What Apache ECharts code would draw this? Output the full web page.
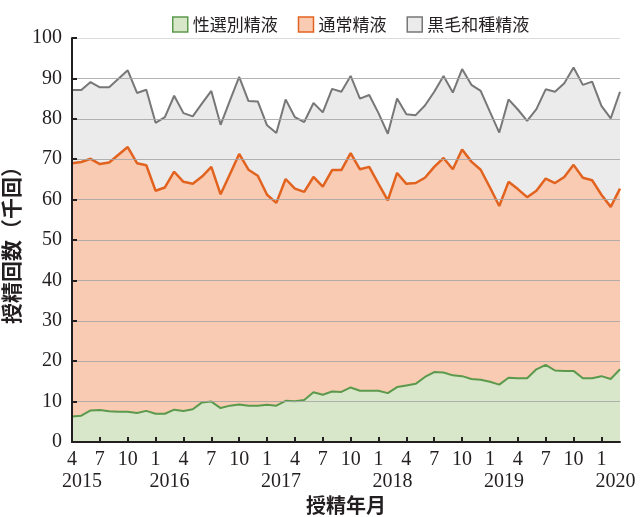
<!DOCTYPE html>
<html>
<head>
<meta charset="utf-8">
<script src="https://cdn.jsdelivr.net/npm/echarts@6/dist/echarts.min.js"></script>
<style>
html,body{margin:0;padding:0;background:#fff;}
#chart{width:641px;height:517px;}
</style>
</head>
<body>
<div id="chart"></div>
<script>
// Months: April 2015 – March 2020
const categories = [
  '2015-04','2015-05','2015-06','2015-07','2015-08','2015-09','2015-10','2015-11','2015-12',
  '2016-01','2016-02','2016-03','2016-04','2016-05','2016-06','2016-07','2016-08','2016-09','2016-10','2016-11','2016-12',
  '2017-01','2017-02','2017-03','2017-04','2017-05','2017-06','2017-07','2017-08','2017-09','2017-10','2017-11','2017-12',
  '2018-01','2018-02','2018-03','2018-04','2018-05','2018-06','2018-07','2018-08','2018-09','2018-10','2018-11','2018-12',
  '2019-01','2019-02','2019-03','2019-04','2019-05','2019-06','2019-07','2019-08','2019-09','2019-10','2019-11','2019-12',
  '2020-01','2020-02','2020-03'
];
// 性選別精液 (thousand)
const sexedSemen = [
  6.3,6.5,7.8,7.9,7.6,7.5,7.5,7.2,7.7,
  7.0,7.0,8.0,7.7,8.1,9.8,10.0,8.4,9.0,9.3,9.0,9.0,
  9.2,9.0,10.2,10.1,10.4,12.3,11.7,12.5,12.4,13.5,12.7,12.7,
  12.7,12.1,13.6,14.0,14.4,16.1,17.3,17.2,16.5,16.3,15.6,15.4,
  14.9,14.2,15.9,15.8,15.8,18.0,19.1,17.7,17.6,17.6,15.8,15.8,
  16.3,15.6,18.0
];
// 通常精液 (thousand)
const conventionalSemen = [
  62.7,62.8,62.3,60.9,61.6,63.6,65.5,61.8,60.8,
  55.2,56.0,58.9,56.7,55.8,55.9,58.1,52.9,57.3,62.0,58.4,56.9,
  52.0,50.2,54.9,52.6,51.5,53.3,51.5,54.8,54.9,58.0,54.8,55.4,
  51.2,47.7,53.0,49.9,49.7,49.3,50.8,53.1,51.0,56.1,53.8,52.0,
  48.1,44.2,48.5,46.8,44.8,44.2,46.1,46.4,48.0,51.0,49.6,49.0,
  44.9,42.6,44.7
];
// 黒毛和種精液 (thousand)
const wagyuSemen = [
  18.1,17.8,19.0,19.0,18.6,18.8,19.0,17.4,18.7,
  16.8,17.4,18.8,17.0,16.7,18.1,18.8,17.2,18.2,19.1,17.0,18.4,
  17.2,17.3,19.7,17.7,17.3,18.3,18.4,20.1,19.4,19.1,17.5,17.8,
  17.5,16.5,18.4,17.2,16.8,17.9,18.6,20.3,19.0,19.9,19.0,19.5,
  18.7,18.2,20.4,19.7,18.9,20.2,22.1,22.6,23.2,24.1,23.0,24.4,
  22.0,21.9,24.0
];
const seriesNames = ['性選別精液','通常精液','黒毛和種精液'];
const yTicks = [0,10,20,30,40,50,60,70,80,90,100];

const lineColors = ['#5b9a4c','#e2631f','#777777'];
const fillColors = ['#d8e6c9','#f9cbb3','#ebebeb'];
const numFont = 'Liberation Serif';
const cjkFont = 'Noto Sans CJK JP';
const ink = '#231f20';

const chart = echarts.init(document.getElementById('chart'), null, {renderer:'canvas'});
const seriesData = [sexedSemen, conventionalSemen, wagyuSemen];

const monthOf = v => parseInt(v.split('-')[1], 10);

const option = {
  animation: false,
  grid: {left: 72, right: 21, top: 38, bottom: 75, containLabel: false, outerBoundsMode: 'none'},
  legend: {
    left: 167, top: 11,
    itemWidth: 15, itemHeight: 15, itemGap: 20,
    icon: 'rect',
    textStyle: {fontFamily: cjkFont, fontSize: 17, color: ink},
    data: seriesNames.map((n,i)=>({name:n, itemStyle:{color:fillColors[i], borderColor:lineColors[i], borderWidth:1.5}}))
  },
  xAxis: [{
    type: 'category',
    boundaryGap: false,
    data: categories,
    name: '授精年月',
    nameLocation: 'middle',
    nameGap: 53,
    nameTextStyle: {fontFamily: cjkFont, fontSize: 20, fontWeight: 'bold', color: ink},
    z: 5,
    axisLine: {lineStyle: {color: ink, width: 2}},
    axisTick: {inside: true, length: 5, interval: 2, lineStyle:{color: ink, width: 2}},
    axisLabel: {
      interval: (idx) => idx % 3 === 0,
      margin: 7,
      showMinLabel: true,
      fontFamily: numFont, fontSize: 20, color: ink, lineHeight: 22,
      formatter: (val) => String(monthOf(val))
    },
    splitLine: {show: false}
  }, {
    type: 'category',
    boundaryGap: false,
    data: categories,
    position: 'bottom',
    offset: 22,
    axisLine: {show: false},
    axisTick: {show: false},
    axisLabel: {
      interval: (idx, val) => idx === 0 || monthOf(val) === 1,
      margin: 7,
      showMinLabel: true,
      fontFamily: numFont, fontSize: 20, color: ink,
      formatter: (val, idx) => (idx === 0 ? '{y0|' : '{y|') + val.split('-')[0] + '}',
      rich: {
        y: {fontFamily: numFont, fontSize: 20, color: ink, lineHeight: 22, padding: [0,0,0,28]},
        y0: {fontFamily: numFont, fontSize: 20, color: ink, lineHeight: 22, padding: [0,0,0,20]}
      }
    },
    splitLine: {show: false}
  }],
  yAxis: {
    type: 'value',
    min: yTicks[0], max: yTicks[yTicks.length-1], interval: 10,
    name: '授精回数（千回）',
    nameLocation: 'middle',
    nameGap: 46,
    nameTextStyle: {fontFamily: cjkFont, fontSize: 21, fontWeight: 'bold', color: ink},
    z: 4,
    axisLine: {show: true, lineStyle: {color: ink, width: 2}},
    axisTick: {show: true, inside: true, length: 5, lineStyle:{color: ink, width: 2}},
    axisLabel: {margin: 10, fontFamily: numFont, fontSize: 20, color: ink},
    splitLine: {lineStyle: {color: ['#a6a6a6','#a6a6a6','#a6a6a6','#a6a6a6','#a6a6a6','#a6a6a6','#a6a6a6','#a6a6a6','#a6a6a6','#a6a6a6','#d6d6d6'], width: 1.2, opacity: 0.85}}
  },
  series: seriesNames.map((n,i)=>({
    name: n,
    type: 'line',
    stack: 'total',
    xAxisIndex: 0,
    data: seriesData[i],
    symbol: 'none',
    lineStyle: {color: lineColors[i], width: i===1 ? 2.5 : 2},
    itemStyle: {color: fillColors[i], borderColor: lineColors[i]},
    areaStyle: {color: fillColors[i], opacity: 1},
    z: 2
  }))
};
chart.setOption(option);
</script>
</body>
</html>
